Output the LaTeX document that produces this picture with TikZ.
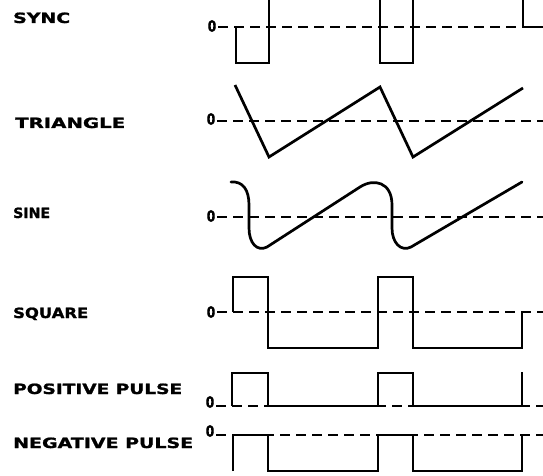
\documentclass[tikz,border=0pt]{standalone}
\usepackage{fontspec}
\usepackage{graphicx}
\newfontfamily\labfont{DejaVu Sans}[UprightFont=* Bold, FakeBold=1.2]
\newcommand{\fitlab}[2]{\resizebox{#1pt}{10.5pt}{#2}}
\begin{document}
\begin{tikzpicture}[x=1pt,y=-1pt,
  lab/.style={font=\labfont, inner sep=0pt, anchor=base west},
  zerolab/.style={font=\labfont, inner sep=0pt, anchor=center},
  wave/.style={line width=2.7pt, line join=miter},
  zeroline/.style={line width=2.2pt, dash pattern=on 10pt off 6pt}]
\useasboundingbox (0,0) rectangle (543,476);

% labels
\node[lab] (lsync) at (13,23)  {\fitlab{57}{SYNC}};
\node[lab] (ltri)  at (15,128) {\fitlab{110}{TRIANGLE}};
\node[lab] (lsine) at (13,218) {\fitlab{37}{SINE}};
\node[lab] (lsq)   at (13,318) {\fitlab{75}{SQUARE}};
\node[lab] (lpos)  at (13,394) {\fitlab{169}{POSITIVE PULSE}};
\node[lab] (lneg)  at (13,448) {\fitlab{180}{NEGATIVE PULSE}};

% zero markers
\newcommand{\zerotxt}{\resizebox{8.5pt}{11.5pt}{0}}
\node[zerolab] (zsync) at (212,26)  {\zerotxt};
\node[zerolab] (ztri)  at (211,119) {\zerotxt};
\node[zerolab] (zsine) at (211,216) {\zerotxt};
\node[zerolab] (zsq)   at (211,312) {\zerotxt};
\node[zerolab] (zpos)  at (210,402) {\zerotxt};
\node[zerolab] (zneg)  at (210,431) {\zerotxt};

% ends of the zero lines
\coordinate (esync) at (543,27);
\coordinate (etri)  at (543,121);
\coordinate (esine) at (543,217);
\coordinate (esq)   at (543,312);
\coordinate (epos)  at (543,406);
\coordinate (eneg)  at (543,435);

\draw[zeroline] ([xshift=2pt]zsync.east |- esync) -- (esync);
\draw[zeroline] ([xshift=2pt]ztri.east |- etri) -- (etri);
\draw[zeroline] ([xshift=2pt]zsine.east |- esine) -- (esine);
\draw[zeroline] ([xshift=2pt]zsq.east |- esq) -- (esq);
\draw[zeroline] ([xshift=2pt]zpos.east |- epos) -- (epos);
\draw[zeroline] ([xshift=2pt]zneg.east |- eneg) -- (eneg);

% SYNC
\draw[wave] (236,27) -- (236,63) -- (269,63) -- (269,0);
\draw[wave] (380,0) -- (380,63) -- (413,63) -- (413,0);
\draw[wave] (523,0) -- (523,27) -- (esync);

% TRIANGLE
\draw[wave] (235,85) -- (269,157) -- (380,87) -- (413,157) -- (523,88);

% SINE
\draw[wave, line cap=round] (231,182) .. controls (243,181) and (249,190) .. (249,205)
  -- (249,228) .. controls (249,243) and (257,252) .. (267,247)
  -- (360,187) .. controls (374,178) and (392,182) .. (392,205)
  -- (392,228) .. controls (392,243) and (401,252) .. (411,247)
  -- (522,182);

% SQUARE
\draw[wave] (233,312) -- (233,277) -- (268,277) -- (268,348) -- (378,348)
  -- (378,277) -- (413,277) -- (413,348) -- (522,348) -- (522,312);

% POSITIVE PULSE
\draw[wave] (232,406) -- (232,373) -- (268,373) -- (268,406) -- (378,406)
  -- (378,373) -- (413,373) -- (413,406) -- (522,406) -- (522,372);

% NEGATIVE PULSE
\draw[wave] (233,471) -- (233,435) -- (268,435) -- (268,471) -- (378,471)
  -- (378,435) -- (413,435) -- (413,471) -- (522,471) -- (522,435);
\end{tikzpicture}
\end{document}
